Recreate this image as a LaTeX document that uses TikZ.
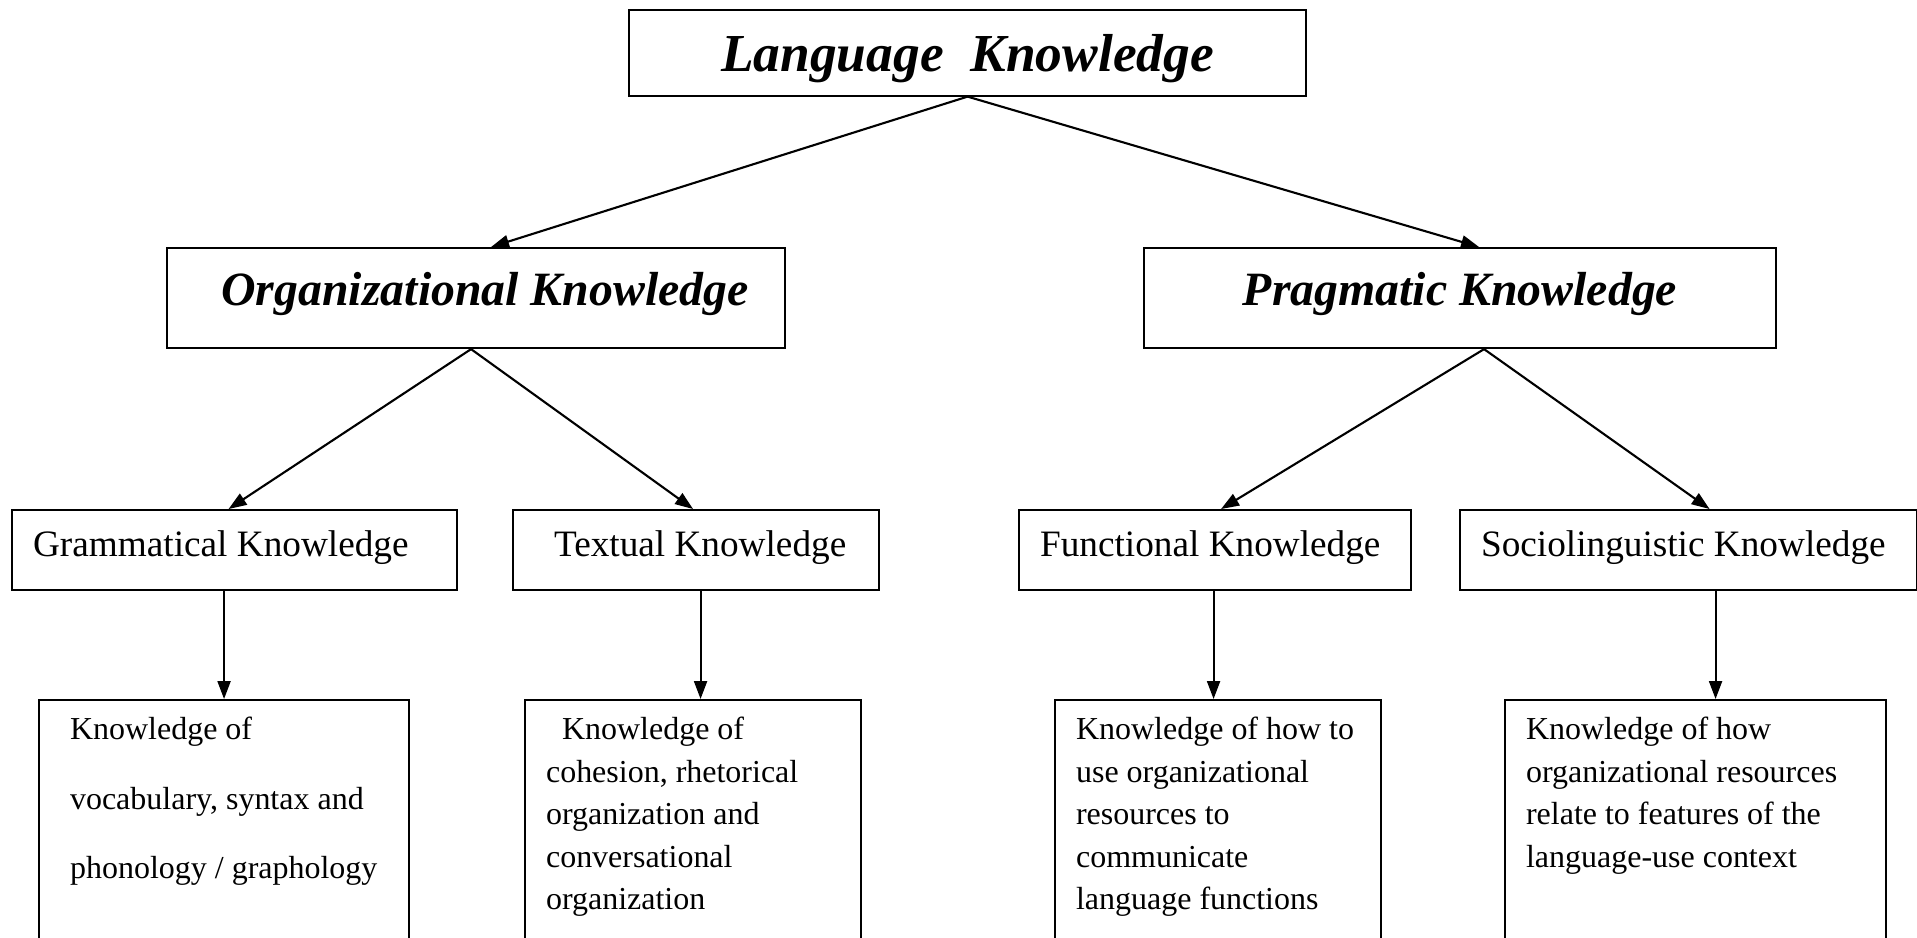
\documentclass[tikz,border=0pt]{standalone}
\usepackage{fontspec}
\setmainfont{Liberation Serif}
\usetikzlibrary{arrows.meta}

\tikzset{
  headbox/.style={draw, line width=0.6pt, anchor=north west, inner sep=0pt,
    text height=0.57cm, text depth=0.43cm,
    font=\fontsize{13.6}{16}\selectfont\bfseries\itshape},
  kindbox/.style={draw, line width=0.6pt, anchor=north west, inner xsep=0.21cm,
    inner ysep=0pt, align=left, text height=0.46cm, text depth=0.34cm,
    execute at begin node={\spaceskip=0pt\xspaceskip=0pt\relax},
    font=\fontsize{10.6}{12.5}\selectfont},
  leafbox/.style={draw, line width=0.6pt, anchor=north west, inner xsep=0.21cm,
    inner ysep=0pt, align=left, text height=0.395cm, text depth=2.6cm,
    execute at begin node={\spaceskip=0pt\xspaceskip=0pt\relax},
    font=\fontsize{9.1}{12.1}\selectfont},
  link/.style={line width=0.6pt, -{Triangle[length=0.18cm,width=0.13cm]}}
}

\begin{document}
\begin{tikzpicture}
  \useasboundingbox (0,0) rectangle (19.17,-9.37);
  \clip (0,0) rectangle (19.17,-9.37);

  % top box
  \node[headbox, minimum width=6.77cm, text height=0.61cm, text depth=0.245cm,
    font=\fontsize{15.2}{18}\selectfont\bfseries\itshape] (lang) at (6.28,-0.09) {Language\ \ Knowledge};

  % two main parts
  \node[headbox, minimum width=6.18cm] (org) at (1.66,-2.47) {\hspace*{0.18cm}Organizational Knowledge};
  \node[headbox, minimum width=6.32cm] (prag) at (11.43,-2.47) {Pragmatic Knowledge};

  % kinds of knowledge
  \node[kindbox, text width=4.03cm] (gram) at (0.11,-5.09) {Grammatical Knowledge};
  \node[kindbox, text width=3.24cm] (textual) at (5.12,-5.09) {\hspace*{0.2cm}Textual Knowledge};
  \node[kindbox, text width=3.50cm] (func) at (10.18,-5.09) {Functional Knowledge};
  \node[kindbox, text width=4.15cm] (socio) at (14.59,-5.09) {Sociolinguistic Knowledge};

  % what each one covers
  \node[leafbox, inner xsep=0.31cm, text width=3.08cm, font=\fontsize{9.1}{19.8}\selectfont] (gramleaf) at (0.38,-6.99)
    {Knowledge of\\vocabulary, syntax and\\phonology / graphology};
  \node[leafbox, text width=2.94cm] (textleaf) at (5.24,-6.99)
    {\hspace*{0.16cm}Knowledge of\\cohesion, rhetorical\\organization and\\conversational\\organization};
  \node[leafbox, text width=2.84cm] (funcleaf) at (10.54,-6.99)
    {Knowledge of how to\\use organizational\\resources to\\communicate\\language functions};
  \node[leafbox, text width=3.39cm] (socioleaf) at (15.04,-6.99)
    {Knowledge of how\\organizational resources\\relate to features of the\\language-use context};

  % arrows
  \draw[link] (lang.south) -- ([xshift=0.15cm]org.north);
  \draw[link] (lang.south) -- ([xshift=0.19cm]prag.north);
  \draw[link] ([xshift=-0.05cm]org.south) -- ([xshift=-0.06cm]gram.north);
  \draw[link] ([xshift=-0.05cm]org.south) -- ([xshift=-0.03cm]textual.north);
  \draw[link] ([xshift=0.24cm]prag.south) -- ([xshift=0.06cm]func.north);
  \draw[link] ([xshift=0.24cm]prag.south) -- ([xshift=0.21cm]socio.north);

  \draw[link] (gramleaf.north |- gram.south) -- (gramleaf.north);
  \draw[link] ([xshift=0.075cm]textleaf.north |- textual.south) -- ([xshift=0.075cm]textleaf.north);
  \draw[link] ([xshift=-0.045cm]funcleaf.north |- func.south) -- ([xshift=-0.045cm]funcleaf.north);
  \draw[link] ([xshift=0.2cm]socioleaf.north |- socio.south) -- ([xshift=0.2cm]socioleaf.north);
\end{tikzpicture}
\end{document}
